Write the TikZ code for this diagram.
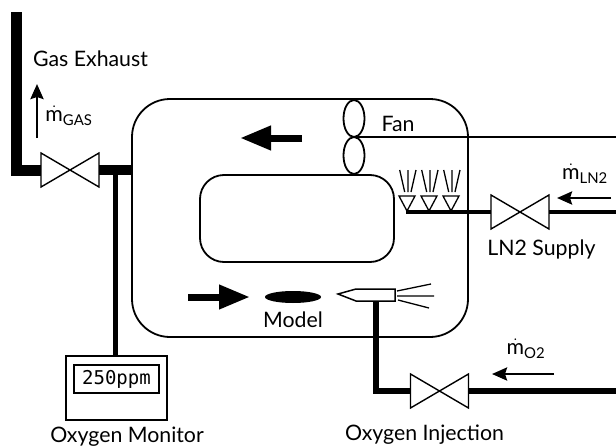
\documentclass[tikz,border=0pt]{standalone}
\usepackage{amsmath}
\usepackage{fontspec}
\setmainfont{Lato}
\newfontfamily\displayfont{DejaVu Sans Mono}
\usepackage{tikz}
\usetikzlibrary{
  calc,arrows.meta,positioning,shapes.geometric
}
\tikzset{
  wall/.style={line width=1.8pt,rounded corners=38pt},
  pipe/.style={line width=#1,line cap=butt},
  pipe/.default=5pt,
  flow/.style={line width=2.4pt,-{Stealth[length=15pt,width=13pt,inset=2pt]}},
  wind/.style={line width=7pt,-{Triangle[length=31pt,width=23pt]}},
  spray/.style={line width=1.3pt},
  label/.style={font=\fontsize{21.3}{23}\selectfont,inner sep=0pt},
  blade/.style={draw,ellipse,line width=1.8pt,minimum width=21pt,minimum height=37pt,inner sep=0pt},
  pics/valve/.style={code={
    \draw[line width=1.4pt,fill=white] (-29,-17)--(29,17)--(29,-17)--(-29,17)--cycle;
    \coordinate (-west) at (-29,0);
    \coordinate (-east) at (29,0);
  }},
  pics/nozzle/.style={code={
    \draw[line width=1.3pt,fill=white] (-8,-15)--(8,-15)--(0,0)--cycle;
    \draw[spray] (-2.3,-19)--(-7.3,-41) (1,-19)--(1,-41) (4,-19)--(9,-41);
  }}
}
\begin{document}
\begin{tikzpicture}[x=1pt,y=-1pt]
  \useasboundingbox (0,0) rectangle (616,447);
  % chamber and return duct
  \draw[wall] (132,99) rectangle (468,337);
  \draw[wall,rounded corners=24pt] (200,175) rectangle (394,262);
  \node[blade] (bladeup) at (354,118.5) {};
  \node[blade] (bladedown) at (354,155.5) {};
  \coordinate (fanhub) at (354,137);
  \coordinate (fanout) at (616,137);
  \draw[line width=1.5pt] (fanhub)--(fanout);
  \node[label] (fan) at (398,124) {Fan};
  % exhaust side
  \pic (vgas) at (70,170) {valve};
  \coordinate (gastop) at (16,12);
  \coordinate (gascorner) at (16,170);
  \coordinate (wallgas) at (132,170);
  \coordinate (tapgas) at (115.5,170);
  \draw[pipe=11pt] (gastop)--(gascorner)--(vgas-west);
  \draw[pipe=10pt] (vgas-east)--(wallgas);
  \node[label] (exhaust) at (90.5,59) {Gas Exhaust};
  \coordinate (mgastail) at (37,138);
  \coordinate (mgastip) at (37,84);
  \draw[flow] (mgastail)--(mgastip);
  \node[label] (mgas) at (69,116) {$\dot{\mathrm{m}}_{\mathrm{GAS}}$};
  % oxygen monitor
  \node[draw,line width=1.8pt,minimum width=101pt,minimum height=64pt,inner sep=0pt] (monitor) at (116.5,388) {};
  \node[draw,line width=1.8pt,minimum width=85pt,minimum height=28pt,inner sep=0pt,
    font=\displayfont\fontsize{19}{20}\selectfont] (display) at (116.5,379) {250ppm};
  \node[label] (monitorlabel) at (127,437) {Oxygen Monitor};
  \draw[pipe=4.5pt] (tapgas)--(tapgas|-monitor.north);
  % model and air flow
  \coordinate (windtopend) at (302,138);
  \coordinate (windtoptip) at (240,138);
  \draw[wind] (windtopend)--(windtoptip);
  \coordinate (windlowend) at (188,297);
  \coordinate (windlowtip) at (250,297);
  \draw[wind] (windlowend)--(windlowtip);
  \node[ellipse,fill,minimum width=56pt,minimum height=12pt,inner sep=0pt] (model) at (293,297) {};
  \node[label] (modellabel) at (293,320) {Model};
  % LN2 supply
  \pic (vln) at (520,212) {valve};
  \coordinate (lnend) at (406,212);
  \coordinate (lnin) at (616,212);
  \draw[pipe=4pt] (lnend)--(vln-west);
  \draw[pipe=4pt] (vln-east)--(lnin);
  \foreach \x in {407,429,451}
    \pic at (\x,211) {nozzle};
  \node[label] (lnlabel) at (541.5,249) {LN2 Supply};
  \coordinate (mlntail) at (611,198);
  \coordinate (mlntip) at (557,198);
  \draw[flow] (mlntail)--(mlntip);
  \node[label] (mln) at (585,174) {$\dot{\mathrm{m}}_{\mathrm{LN2}}$};
  % oxygen injection
  \pic (voxy) at (439.5,391) {valve};
  \draw[line width=1.5pt,fill=white] (338,294)--(356,289)--(395,289)--(395,301)--(356,301)--cycle;
  \coordinate (injfoot) at (376,301);
  \coordinate (oxycorner) at (376,391);
  \coordinate (oxyin) at (616,391);
  \draw[pipe=6pt] (injfoot)--(oxycorner)--(voxy-west);
  \draw[pipe=5.5pt] (voxy-east)--(oxyin);
  \draw[spray] (397,291)--(431,284) (397,296)--(434,296) (398,300)--(429,308);
  \node[label] (oxylabel) at (424.5,435) {Oxygen Injection};
  \coordinate (moxtail) at (554,374);
  \coordinate (moxtip) at (492,374);
  \draw[flow] (moxtail)--(moxtip);
  \node[label] (mox) at (526,349) {$\dot{\mathrm{m}}_{\mathrm{O2}}$};
\end{tikzpicture}
\end{document}
